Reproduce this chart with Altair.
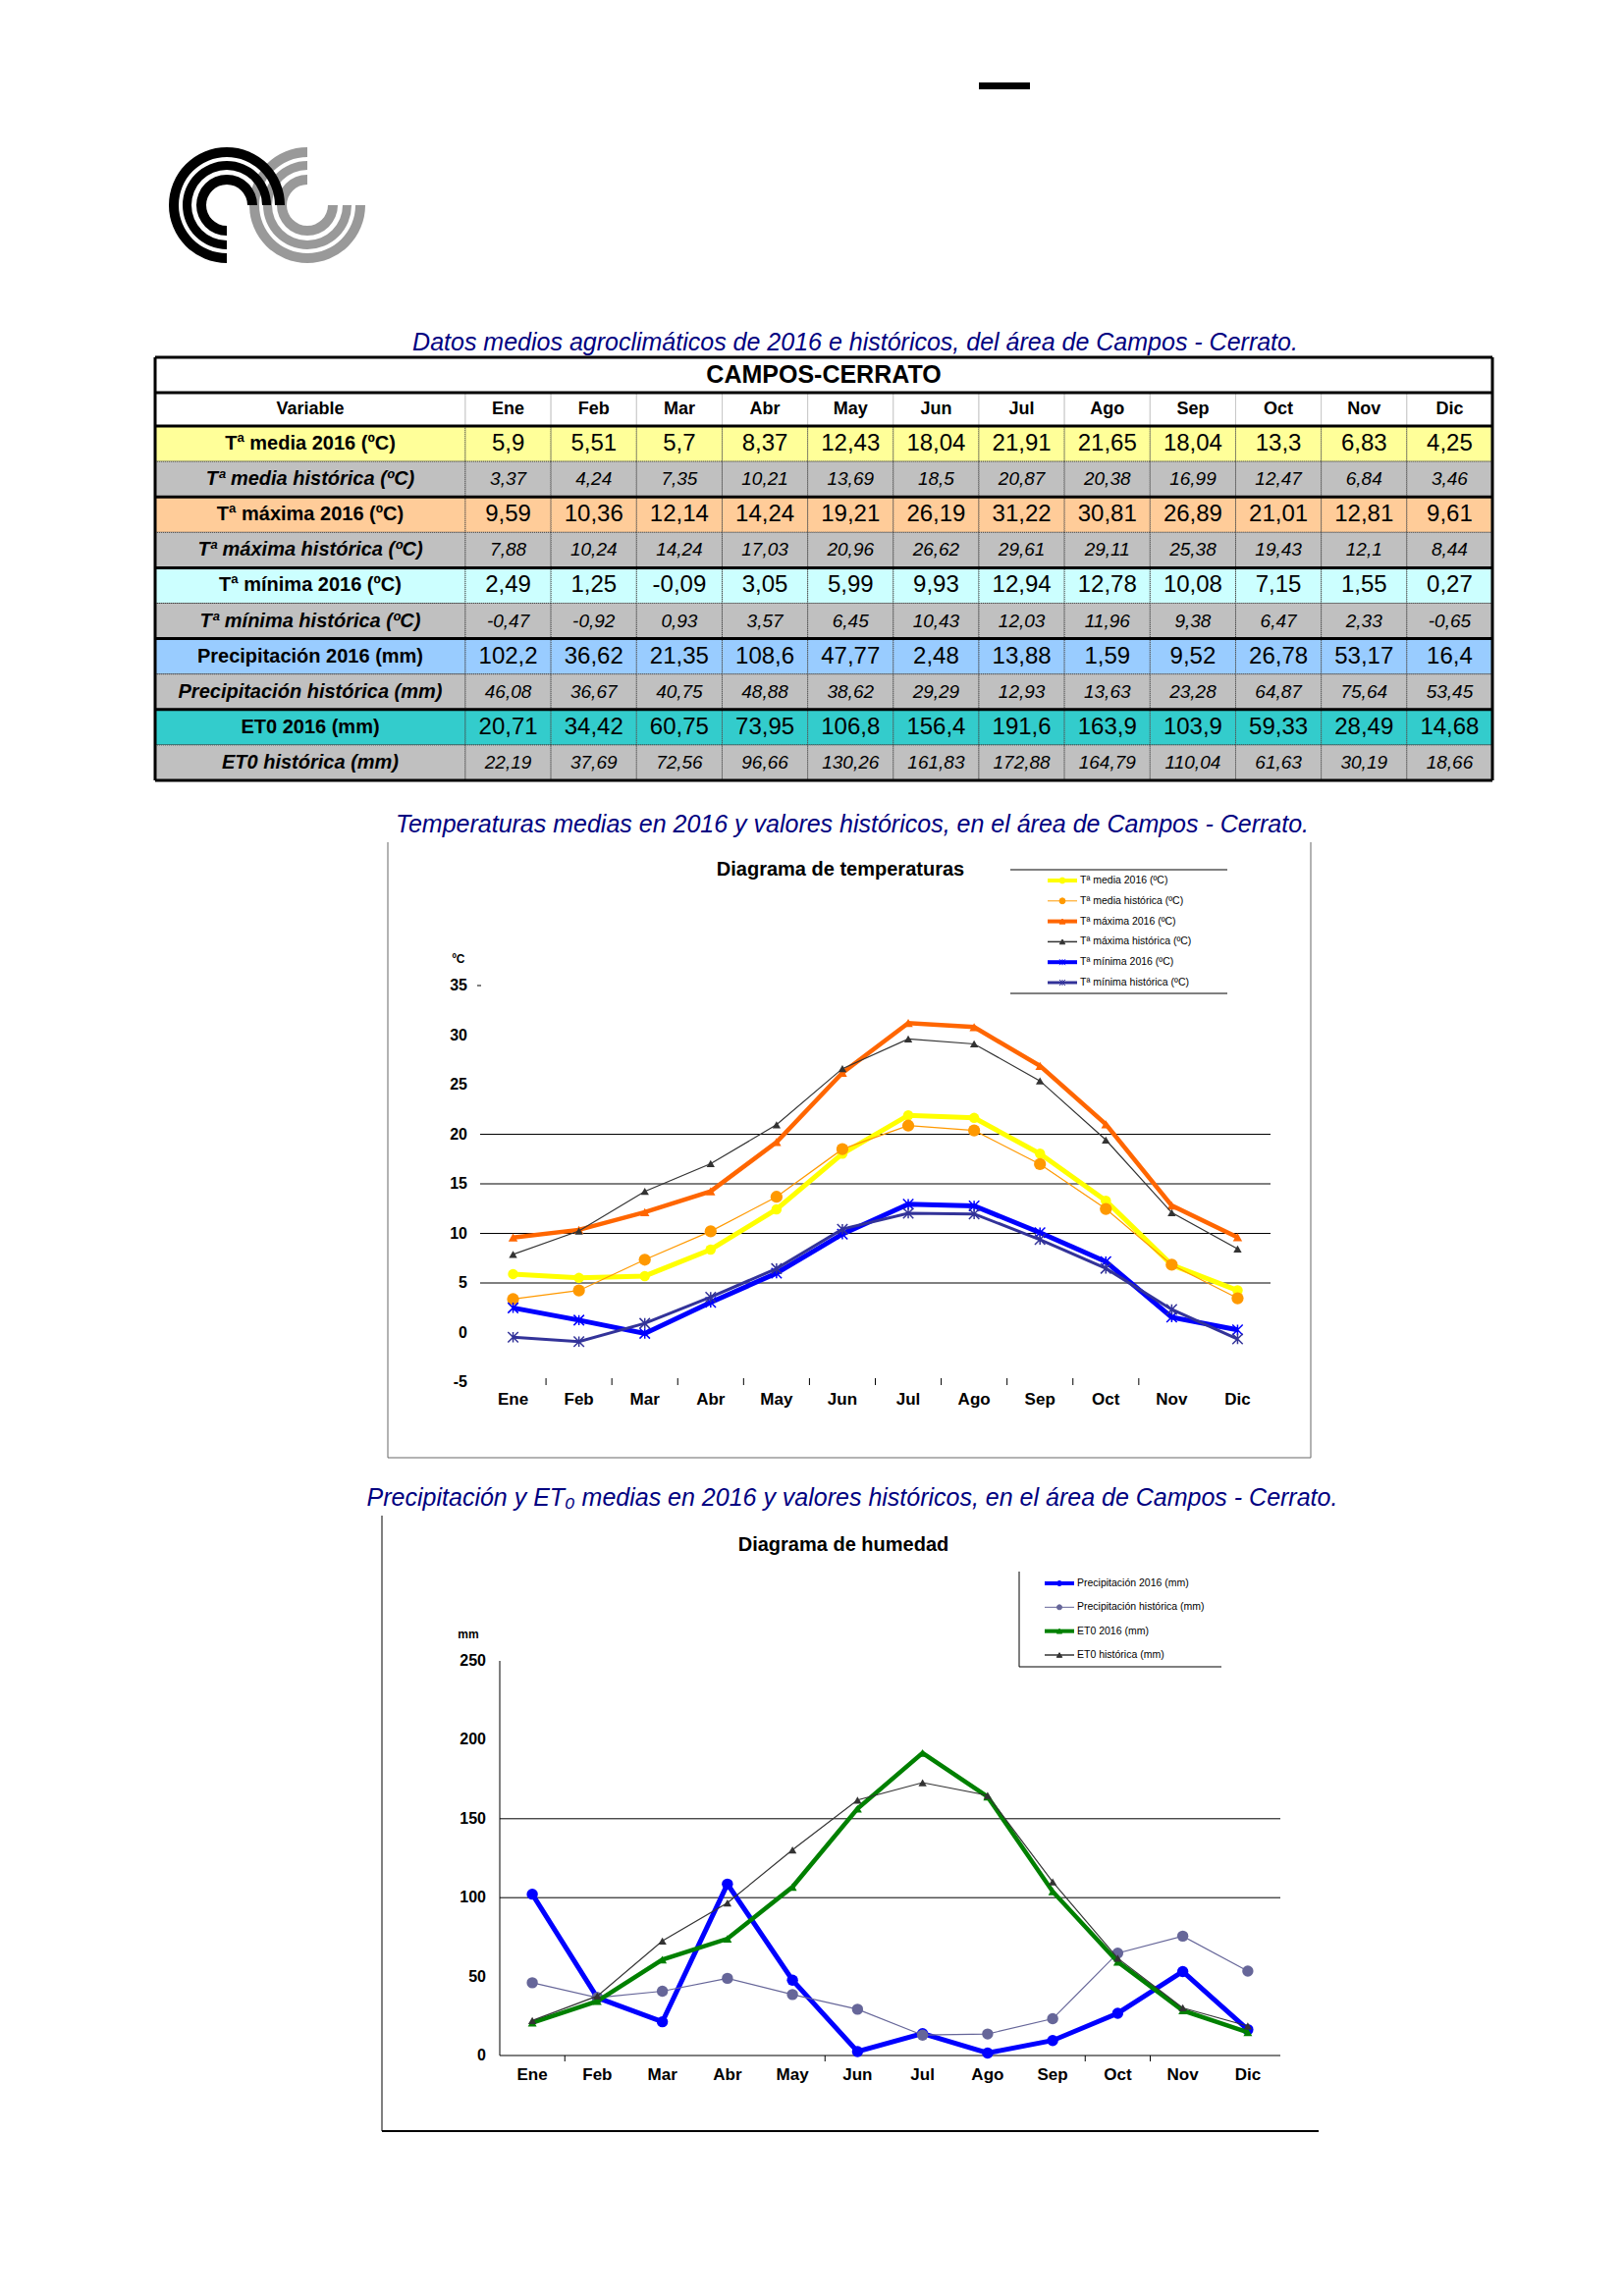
import math
import altair as alt
import pandas as pd

FONT = "Liberation Sans"
NAVY = "#000080"

months = ["Ene", "Feb", "Mar", "Abr", "May", "Jun", "Jul", "Ago", "Sep", "Oct", "Nov", "Dic"]

t_media_2016 = [5.9, 5.51, 5.7, 8.37, 12.43, 18.04, 21.91, 21.65, 18.04, 13.3, 6.83, 4.25]
t_media_hist = [3.37, 4.24, 7.35, 10.21, 13.69, 18.5, 20.87, 20.38, 16.99, 12.47, 6.84, 3.46]
t_max_2016 = [9.59, 10.36, 12.14, 14.24, 19.21, 26.19, 31.22, 30.81, 26.89, 21.01, 12.81, 9.61]
t_max_hist = [7.88, 10.24, 14.24, 17.03, 20.96, 26.62, 29.61, 29.11, 25.38, 19.43, 12.1, 8.44]
t_min_2016 = [2.49, 1.25, -0.09, 3.05, 5.99, 9.93, 12.94, 12.78, 10.08, 7.15, 1.55, 0.27]
t_min_hist = [-0.47, -0.92, 0.93, 3.57, 6.45, 10.43, 12.03, 11.96, 9.38, 6.47, 2.33, -0.65]
prec_2016 = [102.2, 36.62, 21.35, 108.6, 47.77, 2.48, 13.88, 1.59, 9.52, 26.78, 53.17, 16.4]
prec_hist = [46.08, 36.67, 40.75, 48.88, 38.62, 29.29, 12.93, 13.63, 23.28, 64.87, 75.64, 53.45]
eto_2016 = [20.71, 34.42, 60.75, 73.95, 106.8, 156.4, 191.6, 163.9, 103.9, 59.33, 28.49, 14.68]
eto_hist = [22.19, 37.69, 72.56, 96.66, 130.26, 161.83, 172.88, 164.79, 110.04, 61.63, 30.19, 18.66]

row_labels = [
    "Tª media 2016 (ºC)", "Tª media histórica (ºC)",
    "Tª máxima 2016 (ºC)", "Tª máxima histórica (ºC)",
    "Tª mínima 2016 (ºC)", "Tª mínima histórica (ºC)",
    "Precipitación 2016 (mm)", "Precipitación histórica (mm)",
    "ET0 2016 (mm)", "ET0 histórica (mm)",
]
row_fills = ["#FFFF99", "#C0C0C0", "#FFCC99", "#C0C0C0", "#CCFFFF",
             "#C0C0C0", "#99CCFF", "#C0C0C0", "#33CCCC", "#C0C0C0"]
row_values = [t_media_2016, t_media_hist, t_max_2016, t_max_hist, t_min_2016,
              t_min_hist, prec_2016, prec_hist, eto_2016, eto_hist]

table_title = "Datos medios agroclimáticos de 2016 e históricos, del área de Campos - Cerrato."
table_header = "CAMPOS-CERRATO"
temp_title = "Temperaturas medias en 2016 y valores  históricos, en el área de Campos - Cerrato."
hum_title = "Precipitación y ET₀  medias en 2016 y valores  históricos, en el área de Campos - Cerrato."

temp_legend = ["Tª media 2016 (ºC)", "Tª media histórica (ºC)", "Tª máxima 2016 (ºC)",
               "Tª máxima histórica (ºC)", "Tª mínima 2016 (ºC)", "Tª mínima histórica (ºC)"]
hum_legend = ["Precipitación 2016 (mm)", "Precipitación histórica (mm)",
              "ET0 2016 (mm)", "ET0 histórica (mm)"]

temp_ticks = [-5, 0, 5, 10, 15, 20, 25, 30, 35]
temp_grid = [5, 10, 15, 20]
hum_ticks = [0, 50, 100, 150, 200, 250]
hum_grid = [100, 150]

W = 1637
ONE = pd.DataFrame({"a": [0]})
ASTER = "M-1,-1L1,1M-1,1L1,-1M0,-1L0,1"


def fmt(v):
    return repr(v).replace(".", ",")


def label(txt, x, y, size, weight="normal", style="normal", color="black", align="center"):
    return alt.Chart(pd.DataFrame({"t": [txt]})).mark_text(
        font=FONT, fontSize=size, fontWeight=weight, fontStyle=style, color=color,
        align=align, baseline="middle"
    ).encode(x=alt.value(x), y=alt.value(y), text="t:N")


def vrule(x, y0, y1, color="black", w=1):
    return alt.Chart(ONE).mark_rule(color=color, strokeWidth=w).encode(
        x=alt.value(x), y=alt.value(y0), y2=alt.value(y1))


def hrule(y, x0, x1, color="black", w=1):
    return alt.Chart(ONE).mark_rule(color=color, strokeWidth=w).encode(
        y=alt.value(y), x=alt.value(x0), x2=alt.value(x1))


# ---------------- Panel A: header (dash + logo) ----------------
rings = [(21, 31), (36, 45), (49, 59)]
logo_gray = pd.DataFrame([{"r0": a, "r1": b, "t0": 0.5 * math.pi, "t1": 2 * math.pi} for a, b in rings])
logo_black = pd.DataFrame([{"r0": a, "r1": b, "t0": math.pi, "t1": 2.5 * math.pi} for a, b in rings])


def logo_layer(df, color, cx, cy):
    return alt.Chart(df).mark_arc(color=color).encode(
        theta=alt.Theta("t0:Q", scale=None, stack=None), theta2="t1:Q",
        radius=alt.Radius("r1:Q", scale=None), radius2="r0:Q",
        x=alt.value(cx), y=alt.value(cy))


dash = alt.Chart(ONE).mark_rect(color="black").encode(
    x=alt.value(989), x2=alt.value(1041), y=alt.value(76), y2=alt.value(83))

panelA = alt.layer(
    logo_layer(logo_gray, "#999999", 305, 201),
    logo_layer(logo_black, "#000000", 223, 201),
    dash,
).properties(width=W, height=322)

# ---------------- Panel B: table ----------------
VAR_U = 3.625
NX = VAR_U + 12
HDR = 0.94
NY = 1 + HDR + 10
txs = alt.Scale(domain=[0, NX], range=[150, 1512], zero=False, nice=False)
tys = alt.Scale(domain=[0, NY], range=[34, 465], zero=False, nice=False)

hdr_cells = [dict(x0=0, x1=VAR_U, txt="Variable")]
for i, m in enumerate(months):
    hdr_cells.append(dict(x0=VAR_U + i, x1=VAR_U + i + 1, txt=m))
hdr = pd.DataFrame(hdr_cells)
hdr["y0"] = 1
hdr["y1"] = 1 + HDR
hdr["xc"] = (hdr.x0 + hdr.x1) / 2
hdr["yc"] = 1 + HDR / 2

cells = []
for r, (lab, vals, bg) in enumerate(zip(row_labels, row_values, row_fills)):
    y0 = 1 + HDR + r
    kind = "new" if r % 2 == 0 else "hist"
    cells.append(dict(x0=0, x1=VAR_U, y0=y0, y1=y0 + 1, bg=bg, txt=lab, kind=kind, part="label"))
    for i, v in enumerate(vals):
        cells.append(dict(x0=VAR_U + i, x1=VAR_U + i + 1, y0=y0, y1=y0 + 1, bg=bg,
                          txt=fmt(v), kind=kind, part="value"))
cells = pd.DataFrame(cells)
cells["xc"] = (cells.x0 + cells.x1) / 2
cells["yc"] = (cells.y0 + cells.y1) / 2


def t_rect(df, **kw):
    return alt.Chart(df).mark_rect(**kw).encode(
        x=alt.X("x0:Q", scale=txs, axis=None), x2="x1:Q",
        y=alt.Y("y0:Q", scale=tys, axis=None), y2="y1:Q")


def t_text(df, **kw):
    return alt.Chart(df).mark_text(font=FONT, baseline="middle", **kw).encode(
        x=alt.X("xc:Q", scale=txs, axis=None),
        y=alt.Y("yc:Q", scale=tys, axis=None), text="txt:N")


hdr_rect = t_rect(hdr, fill="white", stroke="#C8C8C8", strokeWidth=1)
data_rect = alt.Chart(cells).mark_rect(stroke="#404040", strokeWidth=1, strokeDash=[1, 1]).encode(
    x=alt.X("x0:Q", scale=txs, axis=None), x2="x1:Q",
    y=alt.Y("y0:Q", scale=tys, axis=None), y2="y1:Q",
    fill=alt.Fill("bg:N", scale=None))

hl = pd.DataFrame({"y": [0, 1, 1 + HDR, 3 + HDR, 5 + HDR, 7 + HDR, 9 + HDR, NY]})
hl["x0"] = 0
hl["x1"] = NX
vl = pd.DataFrame({"x": [0, NX]})
vl["y0"] = 0
vl["y1"] = NY
h_thick = alt.Chart(hl).mark_rule(color="black", strokeWidth=3).encode(
    x=alt.X("x0:Q", scale=txs, axis=None), x2="x1:Q", y=alt.Y("y:Q", scale=tys, axis=None))
v_thick = alt.Chart(vl).mark_rule(color="black", strokeWidth=3).encode(
    x=alt.X("x:Q", scale=txs, axis=None), y=alt.Y("y0:Q", scale=tys, axis=None), y2="y1:Q")

title_df = pd.DataFrame({"xc": [NX / 2], "yc": [0.5], "txt": [table_header]})

panelB = alt.layer(
    label(table_title, 863, 19, 25, style="italic", color=NAVY),
    hdr_rect,
    data_rect,
    h_thick,
    v_thick,
    t_text(title_df, fontSize=25, fontWeight="bold"),
    t_text(hdr, fontSize=18, fontWeight="bold"),
    t_text(cells[(cells.kind == "new") & (cells.part == "label")], fontSize=20, fontWeight="bold"),
    t_text(cells[(cells.kind == "hist") & (cells.part == "label")], fontSize=20, fontWeight="bold", fontStyle="italic"),
    t_text(cells[(cells.kind == "new") & (cells.part == "value")], fontSize=24),
    t_text(cells[(cells.kind == "hist") & (cells.part == "value")], fontSize=19, fontStyle="italic"),
).properties(width=W, height=485)


# ---------------- chart helpers ----------------
def series(vals, xs, ys, color, lw, shape, size, filled=True, pw=1.5):
    df = pd.DataFrame({"mes": months, "v": vals})
    enc = dict(x=alt.X("mes:N", scale=xs, axis=None, bandPosition=0.5),
               y=alt.Y("v:Q", scale=ys, axis=None))
    line = alt.Chart(df).mark_line(color=color, strokeWidth=lw).encode(**enc)
    if filled:
        pts = alt.Chart(df).mark_point(shape=shape, size=size, filled=True, color=color, opacity=1).encode(**enc)
    else:
        pts = alt.Chart(df).mark_point(shape=shape, size=size, filled=False, color=color,
                                       strokeWidth=pw, opacity=1).encode(**enc)
    return [line, pts]


def y_labels(ticks, ys, x):
    df = pd.DataFrame({"v": ticks, "t": [str(t) for t in ticks]})
    return alt.Chart(df).mark_text(font=FONT, fontSize=16, fontWeight="bold", align="right",
                                   baseline="middle").encode(
        y=alt.Y("v:Q", scale=ys, axis=None), x=alt.value(x), text="t:N")


def grid(vals, ys, x0, x1):
    df = pd.DataFrame({"v": vals})
    return alt.Chart(df).mark_rule(color="black", strokeWidth=1).encode(
        y=alt.Y("v:Q", scale=ys, axis=None), x=alt.value(x0), x2=alt.value(x1))


def x_labels(xs, y):
    df = pd.DataFrame({"mes": months})
    return alt.Chart(df).mark_text(font=FONT, fontSize=17, fontWeight="bold", baseline="middle").encode(
        x=alt.X("mes:N", scale=xs, axis=None, bandPosition=0.5), y=alt.value(y), text="mes:N")


def x_ticks(xs, which, y0, y1):
    df = pd.DataFrame({"mes": which})
    return alt.Chart(df).mark_rule(color="black", strokeWidth=1).encode(
        x=alt.X("mes:N", scale=xs, axis=None, bandPosition=0), y=alt.value(y0), y2=alt.value(y1))


def legend(names, cols, widths, shapes, sizes, y0, y1, x0, x1, xt):
    df = pd.DataFrame({"serie": names, "col": cols, "sw": widths, "shape": shapes, "size": sizes})
    ls = alt.Scale(type="point", domain=names, range=[y0, y1], padding=0)
    yenc = alt.Y("serie:N", scale=ls, axis=None)
    rule = alt.Chart(df).mark_rule().encode(
        x=alt.value(x0), x2=alt.value(x1), y=yenc,
        color=alt.Color("col:N", scale=None), strokeWidth=alt.StrokeWidth("sw:Q", scale=None))
    pts = alt.Chart(df).mark_point(opacity=1, strokeWidth=1).encode(
        x=alt.value((x0 + x1) / 2), y=yenc,
        shape=alt.Shape("shape:N", scale=None), size=alt.Size("size:Q", scale=None),
        fill=alt.Fill("col:N", scale=None), stroke=alt.Stroke("col:N", scale=None))
    txt = alt.Chart(df).mark_text(font=FONT, fontSize=10.5, align="left", baseline="middle").encode(
        x=alt.value(xt), y=yenc, text="serie:N")
    return alt.layer(rule, pts, txt)


# ---------------- Panel C: temperatures ----------------
x1s = alt.Scale(type="band", domain=months, range=[481, 1286], paddingInner=0, paddingOuter=0)
y1s = alt.Scale(domain=[-5, 35], range=[593, 189], zero=False, nice=False)

temp_series = []
temp_series += series(t_media_2016, x1s, y1s, "#FFFF00", 5, "circle", 110)
temp_series += series(t_media_hist, x1s, y1s, "#FF9900", 1.2, "circle", 150)
temp_series += series(t_max_2016, x1s, y1s, "#FF6600", 4.5, "triangle-up", 90)
temp_series += series(t_max_hist, x1s, y1s, "#333333", 1.2, "triangle-up", 70)
temp_series += series(t_min_2016, x1s, y1s, "#0000FF", 5, ASTER, 110, filled=False)
temp_series += series(t_min_hist, x1s, y1s, "#333399", 3, ASTER, 110, filled=False)

mainC = alt.layer(
    label(temp_title, 860, 25, 25, style="italic", color=NAVY),
    vrule(387, 43, 670, "#666666"), vrule(1327, 43, 670, "#666666"), hrule(670, 387, 1327, "#666666"),
    label("Diagrama de temperaturas", 848, 71, 20, weight="bold"),
    label("ºC", 459, 162, 12, weight="bold"),
    grid(temp_grid, y1s, 481, 1286),
    y_labels(temp_ticks, y1s, 468),
    hrule(189, 478, 482),
    x_ticks(x1s, months[1:11], 589, 596),
    x_labels(x1s, 611),
    *temp_series,
    hrule(71, 1021, 1242), hrule(197, 1021, 1242),
)
legC = legend(temp_legend,
              ["#FFFF00", "#FF9900", "#FF6600", "#333333", "#0000FF", "#333399"],
              [4, 1, 4, 1.5, 4, 3],
              ["circle", "circle", "triangle-up", "triangle-up", ASTER, ASTER],
              [35, 35, 35, 30, 35, 35], 82, 186, 1059, 1089, 1092)
panelC = alt.layer(mainC, legC).resolve_scale(y="independent").properties(width=W, height=685)

# ---------------- Panel D: humidity ----------------
x2s = alt.Scale(type="band", domain=months, range=[501, 1296], paddingInner=0, paddingOuter=0)
y2s = alt.Scale(domain=[0, 250], range=[594, 192], zero=False, nice=False)

hum_series = []
hum_series += series(prec_2016, x2s, y2s, "#0000FF", 5, "circle", 130)
hum_series += series(prec_hist, x2s, y2s, "#666699", 1.2, "circle", 130)
hum_series += series(eto_2016, x2s, y2s, "#008000", 4.5, "triangle-up", 80)
hum_series += series(eto_hist, x2s, y2s, "#333333", 1.2, "triangle-up", 70)

yaxis_df = pd.DataFrame({"a": [0], "b": [250]})
yaxis2 = alt.Chart(yaxis_df).mark_rule(color="black", strokeWidth=1).encode(
    x=alt.value(501), y=alt.Y("a:Q", scale=y2s, axis=None), y2="b:Q")

mainD = alt.layer(
    label(hum_title, 860, 26, 25, style="italic", color=NAVY),
    vrule(381, 44, 671), hrule(671, 381, 1335, w=2),
    label("Diagrama de humedad", 851, 74, 20, weight="bold"),
    label("mm", 469, 165, 12, weight="bold"),
    grid(hum_grid + [0], y2s, 501, 1296),
    yaxis2,
    y_labels(hum_ticks, y2s, 487),
    x_ticks(x2s, ["Feb", "Jun", "Oct", "Nov"], 594, 600),
    x_labels(x2s, 614),
    *hum_series,
    vrule(1030, 101, 198), hrule(198, 1030, 1236),
)
legD = legend(hum_legend,
              ["#0000FF", "#666699", "#008000", "#333333"],
              [4, 1, 4, 1.5],
              ["circle", "circle", "triangle-up", "triangle-up"],
              [25, 25, 30, 30], 113, 186, 1056, 1086, 1089)
panelD = alt.layer(mainD, legD).resolve_scale(y="independent").properties(width=W, height=820)

chart = alt.vconcat(panelA, panelB, panelC, panelD, spacing=0, bounds="flush").properties(
    padding=0, background="white"
).configure_view(strokeWidth=0)

chart.save("out.html", embed_options={"renderer": "svg", "actions": False})
